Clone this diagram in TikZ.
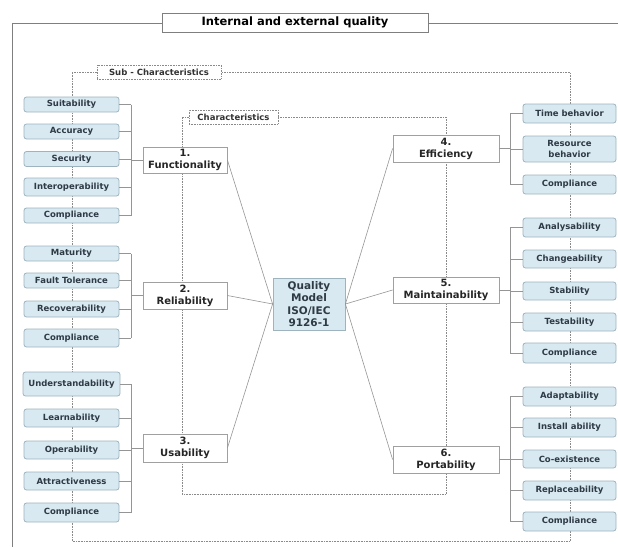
\documentclass[tikz,border=0pt]{standalone}
\usepackage{fontspec}
\setmainfont{DejaVu Sans}
\definecolor{subfill}{HTML}{D8E9F1}
\definecolor{subedge}{HTML}{9DB3BE}
\definecolor{subtext}{HTML}{2E3A46}
\definecolor{linkgray}{HTML}{959595}
\definecolor{framegray}{HTML}{7F7F7F}
\definecolor{dotgray}{HTML}{8A8A8A}
\begin{document}
\begin{tikzpicture}[x=1pt,y=-1pt,
  subbox/.style={draw=subedge, fill=subfill, rounded corners=2.5pt, line width=0.8pt,
    inner sep=0pt, text=subtext, align=center,
    font=\bfseries\fontsize{8.5}{10}\selectfont},
  lsub/.style={subbox, minimum width=95pt},
  rsub/.style={subbox, minimum width=93pt},
  charbox/.style={draw=linkgray!90, fill=white, line width=0.8pt, inner sep=0pt,
    align=center, text=black!85, font=\bfseries\fontsize{10}{12}\selectfont},
  lchar/.style={charbox, minimum width=84pt},
  rchar/.style={charbox, minimum width=106pt},
  tag/.style={draw=dotgray, densely dotted, line width=0.6pt, fill=white, inner sep=0pt,
    text=black!80, font=\bfseries\fontsize{8.5}{10}\selectfont},
  bracket/.style={draw=linkgray, line width=0.7pt},
  spoke/.style={draw=linkgray, line width=0.6pt},
  fence/.style={draw=dotgray, densely dotted, line width=0.6pt},
  frame/.style={draw=framegray, line width=0.9pt}]
\useasboundingbox (0,0) rectangle (618,547);

% bracket columns
\coordinate (lbx) at (131,0);
\coordinate (rbx) at (510,0);

% ---- labels of the nested groups
\node[draw=framegray, line width=0.8pt, fill=white, inner sep=0pt,
      minimum width=266pt, minimum height=19pt,
      font=\bfseries\fontsize{11.5}{13}\selectfont] (title) at (295,22.5) {Internal and external quality};
\node[tag, minimum width=124pt, minimum height=14pt] (subtag) at (159,72) {Sub - Characteristics};
\node[tag, minimum width=89pt, minimum height=14pt] (chartag) at (233.5,117) {Characteristics};

% ---- outer frame
\draw[frame] (12,547) -- (12,23) -- (title.west |- 12,23);
\draw[frame] (title.east |- 0,23) -- (618,23);

% ---- dotted group outlines (behind the boxes)
\draw[fence] (subtag.west) -- (72,72) -- (72,541) -- (570,541) -- (570,72) -- (subtag.east);
\draw[fence] (chartag.west) -- (182,117) -- (182,494) -- (446,494) -- (446,117) -- (chartag.east);

% ---- characteristics
\node[lchar, minimum height=26pt] (func) at (185,160) {1.\\Functionality};
\node[lchar, minimum height=27pt] (reli) at (185,295.5) {2.\\Reliability};
\node[lchar, minimum height=28pt] (usab) at (185,448) {3.\\Usability};
\node[rchar, minimum height=27pt] (effi) at (446,148.5) {4.\\Efficiency};
\node[rchar, minimum height=26pt] (main) at (446,290) {5.\\Maintainability};
\node[rchar, minimum height=27pt] (port) at (446,459.5) {6.\\Portability};

% ---- centre
\node[draw=subedge, fill=subfill, line width=0.8pt, inner sep=0pt, align=center,
      minimum width=72pt, minimum height=52pt, text=subtext,
      font=\bfseries\fontsize{10.5}{12.6}\selectfont] (qm) at (309,304) {Quality\\Model\\ISO/IEC\\9126-1};

\draw[spoke] (qm.west) -- (func.east);
\draw[spoke] (qm.west) -- (reli.east);
\draw[spoke] (qm.west) -- (usab.east);
\draw[spoke] (qm.east) -- (effi.west);
\draw[spoke] (qm.east) -- (main.west);
\draw[spoke] (qm.east) -- (port.west);

% ---- left sub-characteristics
\node[lsub, minimum height=15pt] (f1) at (71.5,104.5) {Suitability};
\node[lsub, minimum height=15pt] (f2) at (71.5,131.5) {Accuracy};
\node[lsub, minimum height=15pt] (f3) at (71.5,159) {Security};
\node[lsub, minimum height=18pt] (f4) at (71.5,187) {Interoperability};
\node[lsub, minimum height=15pt] (f5) at (71.5,215.5) {Compliance};

\node[lsub, minimum height=15pt] (r1) at (71.5,253.5) {Maturity};
\node[lsub, minimum height=15pt] (r2) at (71.5,280.5) {Fault Tolerance};
\node[lsub, minimum height=16pt] (r3) at (71.5,309) {Recoverability};
\node[lsub, minimum height=18pt] (r4) at (71.5,338) {Compliance};

\node[lsub, minimum width=97pt, minimum height=24pt] (u1) at (71.5,384) {Understandability};
\node[lsub, minimum height=18pt] (u2) at (71.5,418) {Learnability};
\node[lsub, minimum height=18pt] (u3) at (71.5,450) {Operability};
\node[lsub, minimum height=18pt] (u4) at (71.5,481) {Attractiveness};
\node[lsub, minimum height=19pt] (u5) at (71.5,512.5) {Compliance};

% ---- right sub-characteristics
\node[rsub, minimum height=19pt] (e1) at (569.5,113.5) {Time behavior};
\node[rsub, minimum height=26pt, font=\bfseries\fontsize{8.5}{11}\selectfont] (e2) at (569.5,149) {Resource\\behavior};
\node[rsub, minimum height=19pt] (e3) at (569.5,184.5) {Compliance};

\node[rsub, minimum height=19pt] (m1) at (569.5,227.5) {Analysability};
\node[rsub, minimum height=18pt] (m2) at (569.5,259) {Changeability};
\node[rsub, minimum height=18pt] (m3) at (569.5,291) {Stability};
\node[rsub, minimum height=18pt] (m4) at (569.5,322) {Testability};
\node[rsub, minimum height=20pt] (m5) at (569.5,353) {Compliance};

\node[rsub, minimum height=19pt] (p1) at (569.5,396.5) {Adaptability};
\node[rsub, minimum height=19pt] (p2) at (569.5,427.5) {Install ability};
\node[rsub, minimum height=18pt] (p3) at (569.5,459) {Co-existence};
\node[rsub, minimum height=19pt] (p4) at (569.5,490.5) {Replaceability};
\node[rsub, minimum height=19pt] (p5) at (569.5,521.5) {Compliance};

% ---- left brackets
\draw[bracket] (f1.east -| lbx) -- (f5.east -| lbx);
\foreach \n in {f1,f2,f3,f4,f5} \draw[bracket] (\n.east) -- (\n.east -| lbx);
\draw[bracket] (func.west -| lbx) -- (func.west);

\draw[bracket] (r1.east -| lbx) -- (r4.east -| lbx);
\foreach \n in {r1,r2,r3,r4} \draw[bracket] (\n.east) -- (\n.east -| lbx);
\draw[bracket] (reli.west -| lbx) -- (reli.west);

\draw[bracket] (u1.east -| lbx) -- (u5.east -| lbx);
\foreach \n in {u1,u2,u3,u4,u5} \draw[bracket] (\n.east) -- (\n.east -| lbx);
\draw[bracket] (usab.west -| lbx) -- (usab.west);

% ---- right brackets
\draw[bracket] (e1.west -| rbx) -- (e3.west -| rbx);
\foreach \n in {e1,e2,e3} \draw[bracket] (\n.west) -- (\n.west -| rbx);
\draw[bracket] (effi.east) -- (effi.east -| rbx);

\draw[bracket] (m1.west -| rbx) -- (m5.west -| rbx);
\foreach \n in {m1,m2,m3,m4,m5} \draw[bracket] (\n.west) -- (\n.west -| rbx);
\draw[bracket] (main.east) -- (main.east -| rbx);

\draw[bracket] (p1.west -| rbx) -- (p5.west -| rbx);
\foreach \n in {p1,p2,p3,p4,p5} \draw[bracket] (\n.west) -- (\n.west -| rbx);
\draw[bracket] (port.east) -- (port.east -| rbx);
\end{tikzpicture}
\end{document}
